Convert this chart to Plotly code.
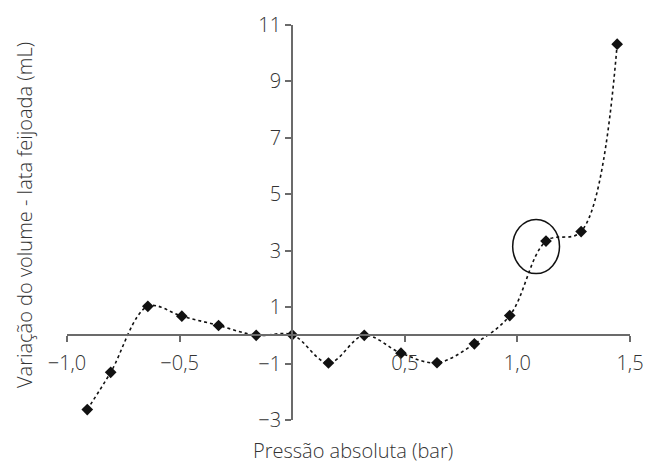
import plotly.graph_objects as go

# Data
pressao = [-0.91, -0.806, -0.641, -0.49, -0.327, -0.16, 0.0, 0.161, 0.32,
           0.483, 0.643, 0.809, 0.966, 1.127, 1.283, 1.443]
variacao = [-2.63, -1.31, 1.03, 0.68, 0.35, 0.0, 0.02, -0.98, 0.0,
            -0.63, -0.97, -0.30, 0.70, 3.34, 3.68, 10.32]

x_tickvals = [-1.0, -0.5, 0.5, 1.0, 1.5]
x_ticktext = ["\u22121,0", "\u22120,5", "0,5", "1,0", "1,5"]
y_tickvals = [-3, -1, 1, 3, 5, 7, 9, 11]
y_ticktext = ["\u22123", "\u22121", "1", "3", "5", "7", "9", "11"]

# highlighted region (ellipse)
ellipse_x = [0.979, 1.187]
ellipse_y = [2.19, 4.11]

x_range = [-1.0, 1.5]
y_range = [-3, 11]

FONT = "Open Sans, Liberation Sans, sans-serif"
TXT = "#333333"
AX = "#6b6b6b"
FS = 20

fig = go.Figure()
fig.add_trace(go.Scatter(
    x=pressao, y=variacao, mode="lines+markers",
    line=dict(color="#111111", width=1.6, dash="dot", shape="spline", smoothing=1.0),
    marker=dict(symbol="diamond", size=9, color="#111111"),
    showlegend=False, hoverinfo="x+y",
))

fig.add_shape(type="circle", xref="x", yref="y",
              x0=ellipse_x[0], x1=ellipse_x[1], y0=ellipse_y[0], y1=ellipse_y[1],
              line=dict(color="#111111", width=1.5))

x_pos = (0 - y_range[0]) / (y_range[1] - y_range[0])
y_pos = (0 - x_range[0]) / (x_range[1] - x_range[0])

fig.update_layout(
    width=646, height=463,
    margin=dict(l=67, r=16, t=25, b=43),
    paper_bgcolor="white", plot_bgcolor="white",
    font=dict(family=FONT, size=FS, color=TXT, weight=300),
    xaxis=dict(range=x_range, anchor="free", position=x_pos, automargin=False,
               showgrid=False, zeroline=False, showline=True,
               linecolor=AX, linewidth=2, ticks="outside", ticklen=6,
               tickwidth=1.5, tickcolor=AX, ticklabelstandoff=4,
               tickvals=x_tickvals, ticktext=x_ticktext,
               tickfont=dict(size=FS, color=TXT, weight=300)),
    yaxis=dict(range=y_range, anchor="free", position=y_pos, automargin=False,
               showgrid=False, zeroline=False, showline=True,
               linecolor=AX, linewidth=2, ticks="outside", ticklen=6,
               tickwidth=1.5, tickcolor=AX,
               tickvals=y_tickvals, ticktext=y_ticktext,
               tickfont=dict(size=FS, color=TXT, weight=300)),
    annotations=[
        dict(text="Pressão absoluta (bar)", xref="paper", yref="paper",
             x=0.508, y=-0.078, xanchor="center", yanchor="middle", showarrow=False,
             font=dict(size=FS, color=TXT, weight=300)),
        dict(text="Variação do volume - lata feijoada (mL)", xref="paper", yref="paper",
             x=-0.0746, y=0.519, xanchor="center", yanchor="middle", textangle=-90,
             showarrow=False, font=dict(size=FS, color=TXT, weight=300)),
    ],
)

fig.write_html("out.html", config={"displayModeBar": False},
               post_script="document.body.style.margin='0';")
